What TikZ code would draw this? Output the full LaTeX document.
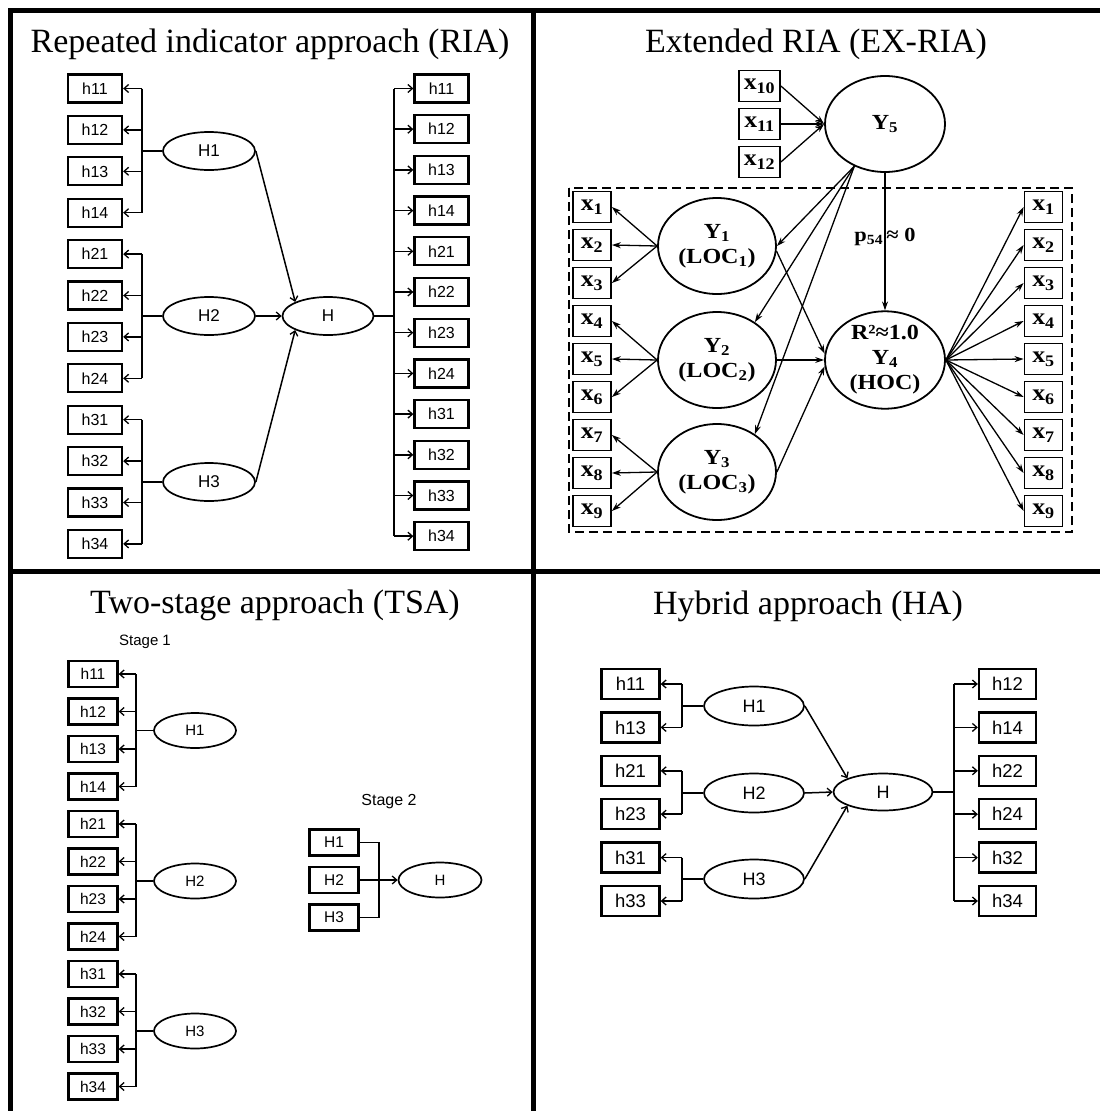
\documentclass[tikz,border=0pt]{standalone}
\usepackage{fontspec}
\setmainfont{Liberation Serif}
\newfontfamily\arialf{Liberation Sans}
\newfontfamily\exfont[FakeStretch=1.12]{Liberation Serif}
\usetikzlibrary{shapes.geometric,arrows.meta}
\tikzset{
  frame/.style={line width=5pt, black},
  ttl/.style={anchor=base, inner sep=0pt, font=\fontsize{34}{40}\selectfont},
  conn/.style={line width=1.5pt},
  arr/.style={conn, -{Straight Barb[length=4.5pt,width=8pt,line width=1.3pt]}},
  arrb/.style={line width=1.3pt, -{Stealth[length=9pt,width=6pt]}},
  hbox/.style={draw, line width=2.3pt, inner sep=0pt, minimum width=54pt, minimum height=28pt, font=\arialf\fontsize{16}{16}\selectfont},
  hell/.style={draw, ellipse, line width=1.7pt, inner sep=0pt, minimum width=92pt, minimum height=38pt, font=\arialf\fontsize{17}{17}\selectfont},
  tbox/.style={hbox, minimum width=49pt, minimum height=26pt, font=\arialf\fontsize{15.5}{15.5}\selectfont},
  tell/.style={hell, minimum width=82pt, minimum height=35pt, font=\arialf\fontsize{15}{15}\selectfont},
  stg/.style={inner sep=0pt, font=\arialf\fontsize{15}{15}\selectfont},
  abox/.style={hbox, minimum width=58pt, minimum height=30pt, font=\arialf\fontsize{18.5}{18.5}\selectfont},
  aell/.style={hell, minimum width=100pt, minimum height=39pt, font=\arialf\fontsize{18}{18}\selectfont},
  xbox/.style={draw, line width=1.8pt, inner sep=0pt, minimum width=38pt, minimum height=31pt, font=\exfont\bfseries\fontsize{23}{23}\selectfont},
  yell/.style={draw, ellipse, line width=1.8pt, inner sep=0pt, minimum width=118pt, minimum height=96pt, align=center, font=\exfont\bfseries\fontsize{21.5}{25}\selectfont},
}
\begin{document}
\begin{tikzpicture}[x=1pt,y=-1pt]
\useasboundingbox (0,0) rectangle (1100,1111);
\fill[white] (0,0) rectangle (1100,1111);

% ================= frame =================
\draw[frame] (8,10) -- (1100,10);
\draw[frame] (10,8) -- (10,1111);
\draw[frame] (533,8) -- (533,1111);
\draw[frame] (8,571) -- (1100,571);

% ================= RIA =================
\node[ttl] (t1) at (270,52) {Repeated indicator approach (RIA)};
\foreach \lab [count=\i from 0] in {h11,h12,h13,h14,h21,h22,h23,h24,h31,h32,h33,h34}
  \node[hbox] (A\lab) at (95,{88.5+41.4*\i}) {\lab};
\foreach \lab [count=\i from 0] in {h11,h12,h13,h14,h21,h22,h23,h24,h31,h32,h33,h34}
  \node[hbox] (B\lab) at (441.5,{88.5+40.7*\i}) {\lab};
\node[hell] (AH1) at (209,151) {H1};
\node[hell] (AH2) at (209,316) {H2};
\node[hell] (AH3) at (209,482) {H3};
\node[hell, minimum width=91pt] (AH) at (328,316) {H};
\coordinate (ALb) at (142,0);
\coordinate (ARb) at (394,0);
\foreach \lab in {h11,h12,h13,h14,h21,h22,h23,h24,h31,h32,h33,h34}{
  \draw[arr] (A\lab.east -| ALb) -- (A\lab.east);
  \draw[arr] (B\lab.west -| ARb) -- (B\lab.west);
}
\draw[conn] (Ah11.east -| ALb) -- (Ah14.east -| ALb);
\draw[conn] (Ah21.east -| ALb) -- (Ah24.east -| ALb);
\draw[conn] (Ah31.east -| ALb) -- (Ah34.east -| ALb);
\draw[conn] (AH1.west) -- (AH1.west -| ALb);
\draw[conn] (AH2.west) -- (AH2.west -| ALb);
\draw[conn] (AH3.west) -- (AH3.west -| ALb);
\draw[conn] (Bh11.west -| ARb) -- (Bh34.west -| ARb);
\draw[conn] (AH.east) -- (AH.east -| ARb);
\draw[arr] (AH1.east) -- (AH.north west);
\draw[arr] (AH2.east) -- (AH.west);
\draw[arr] (AH3.east) -- (AH.south west);

% ================= EX-RIA =================
\node[ttl] (t2) at (816,52) {Extended RIA (EX-RIA)};
\draw[line width=2.4pt, dash pattern=on 9pt off 5pt] (569,188) rectangle (1072,532);
\node[xbox, minimum width=41pt] (x10) at (759.5,86) {x\textsubscript{10}};
\node[xbox, minimum width=41pt] (x11) at (759.5,124) {x\textsubscript{11}};
\node[xbox, minimum width=41pt] (x12) at (759.5,162) {x\textsubscript{12}};
\foreach \k [count=\i from 0] in {1,...,9}{
  \node[xbox] (L\k) at (592,{207+38*\i}) {x\textsubscript{\k}};
  \node[xbox] (R\k) at (1043.5,{207+38*\i}) {x\textsubscript{\k}};
}
\node[yell, minimum width=120pt] (Y5) at (885,124) {Y\textsubscript{5}};
\node[yell] (Y1) at (717,246) {Y\textsubscript{1}\\(LOC\textsubscript{1})};
\node[yell] (Y2) at (717,360) {Y\textsubscript{2}\\(LOC\textsubscript{2})};
\node[yell] (Y3) at (717,472) {Y\textsubscript{3}\\(LOC\textsubscript{3})};
\node[yell, minimum width=120pt] (Y4) at (885,360) {R²≈1.0\\Y\textsubscript{4}\\(HOC)};
\node[inner sep=0pt, font=\exfont\bfseries\fontsize{20}{20}\selectfont] (p54) at (885,237) {p\textsubscript{54}\,≈ 0};
\foreach \s in {x10,x11,x12} \draw[arrb] (\s.east) -- (Y5.west);
\draw[arrb] (Y5.234) -- (Y1.east);
\draw[arrb] (Y5.234) -- (Y2.45);
\draw[arrb] (Y5.234) -- (Y3.45);
\draw[arrb] (Y5.south) -- (Y4.north);
\draw[arrb] (Y1.355) -- (Y4.174);
\draw[arrb] (Y2.east) -- (Y4.west);
\draw[arrb] (Y3.east) -- (Y4.186);
\foreach \k in {1,2,3} \draw[arrb] (Y1.west) -- (L\k.east);
\foreach \k in {4,5,6} \draw[arrb] (Y2.west) -- (L\k.east);
\foreach \k in {7,8,9} \draw[arrb] (Y3.west) -- (L\k.east);
\foreach \k in {1,...,9} \draw[arrb] (Y4.east) -- (R\k.west);

% ================= TSA =================
\node[ttl] (t3) at (275,613) {Two-stage approach (TSA)};
\node[stg] (st1) at (145,642) {Stage 1};
\node[stg, font=\arialf\fontsize{16}{16}\selectfont] (st2) at (389,802) {Stage 2};
\foreach \lab [count=\i from 0] in {h11,h12,h13,h14,h21,h22,h23,h24,h31,h32,h33,h34}
  \node[tbox] (T\lab) at (93,{674+37.5*\i}) {\lab};
\coordinate (TLb) at (136,0);
\foreach \lab in {h11,h12,h13,h14,h21,h22,h23,h24,h31,h32,h33,h34}
  \draw[arr] (T\lab.east -| TLb) -- (T\lab.east);
\node[tell] (TH1) at (195,730.5) {H1};
\node[tell] (TH2) at (195,881) {H2};
\node[tell] (TH3) at (195,1031) {H3};
\draw[conn] (Th11.east -| TLb) -- (Th14.east -| TLb);
\draw[conn] (Th21.east -| TLb) -- (Th24.east -| TLb);
\draw[conn] (Th31.east -| TLb) -- (Th34.east -| TLb);
\draw[conn] (TH1.west) -- (TH1.west -| TLb);
\draw[conn] (TH2.west) -- (TH2.west -| TLb);
\draw[conn] (TH3.west) -- (TH3.west -| TLb);
\node[tbox] (S1) at (334,842.5) {H1};
\node[tbox] (S2) at (334,880) {H2};
\node[tbox] (S3) at (334,917.5) {H3};
\node[tell, minimum width=83pt] (TH) at (440,880) {H};
\coordinate (TRb) at (379,0);
\draw[conn] (S1.east) -- (S1.east -| TRb) -- (S3.east -| TRb) -- (S3.east);
\draw[arr] (S2.east) -- (TH.west);

% ================= HA =================
\node[ttl] (t4) at (808,614) {Hybrid approach (HA)};
\foreach \lab [count=\i from 0] in {h11,h13,h21,h23,h31,h33}
  \node[abox] (P\lab) at (630.5,{684+43.4*\i}) {\lab};
\foreach \lab [count=\i from 0] in {h12,h14,h22,h24,h32,h34}
  \node[abox, minimum width=57pt] (Q\lab) at (1007.5,{684+43.4*\i}) {\lab};
\coordinate (PLb) at (682,0);
\coordinate (PRb) at (954,0);
\foreach \lab in {h11,h13,h21,h23,h31,h33}
  \draw[arr] (P\lab.east -| PLb) -- (P\lab.east);
\foreach \lab in {h12,h14,h22,h24,h32,h34}
  \draw[arr] (Q\lab.west -| PRb) -- (Q\lab.west);
\node[aell] (PH1) at (754,706) {H1};
\node[aell] (PH2) at (754,793) {H2};
\node[aell] (PH3) at (754,879) {H3};
\node[aell, minimum width=99pt, minimum height=37pt] (PH) at (883,792) {H};
\draw[conn] (Ph11.east -| PLb) -- (Ph13.east -| PLb);
\draw[conn] (Ph21.east -| PLb) -- (Ph23.east -| PLb);
\draw[conn] (Ph31.east -| PLb) -- (Ph33.east -| PLb);
\draw[conn] (PH1.west) -- (PH1.west -| PLb);
\draw[conn] (PH2.west) -- (PH2.west -| PLb);
\draw[conn] (PH3.west) -- (PH3.west -| PLb);
\draw[conn] (Qh12.west -| PRb) -- (Qh34.west -| PRb);
\draw[conn] (PH.east) -- (PH.east -| PRb);
\draw[arr] (PH1.east) -- (PH.north west);
\draw[arr] (PH2.east) -- (PH.west);
\draw[arr] (PH3.east) -- (PH.south west);
\end{tikzpicture}
\end{document}
